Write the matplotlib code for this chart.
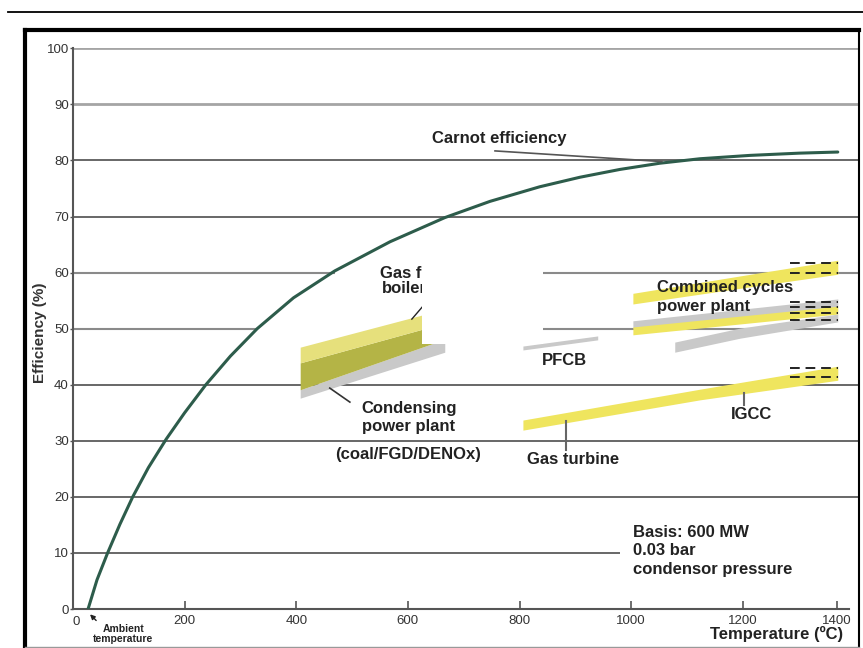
import numpy as np
import matplotlib
matplotlib.use('Agg')
import matplotlib.pyplot as plt
from matplotlib.patches import Rectangle
from matplotlib.lines import Line2D

plt.rcParams['font.family'] = ['Liberation Sans', 'DejaVu Sans']

# Carnot efficiency curve
carnot_T = [27, 43, 62, 84, 107, 135, 167, 200, 238, 282, 330, 395, 469, 568, 666, 747,
            836, 908, 980, 1051, 1123, 1215, 1320, 1402]
carnot_eff = [0, 5.2, 10, 15.1, 20, 25.2, 30.3, 35.0, 40.0, 45.1, 50, 55.5, 60.3, 65.5, 69.8, 72.7,
              75.3, 77.0, 78.4, 79.5, 80.3, 80.9, 81.3, 81.5]

# condensing power plant slab (coal/FGD/DENOx)
cond_T = [407, 666]
cond_top = [46.7, 53.5]
cond_mid = [43.9, 51.0]
cond_base = [39.1, 48.1]
cond_bottom = [37.6, 45.8]

# PFCB
pfcb_T = [806, 940]
pfcb_top = [46.9, 48.7]
pfcb_bottom = [46.2, 48.0]

# gas turbine / IGCC
gt_T = [806, 1123, 1402]
gt_top = [33.7, 39.2, 43.3]
gt_bottom = [31.9, 37.3, 40.8]
igcc_dash = [42.9, 41.4]

# combined cycles
cc1_T = [1003, 1195, 1402]
cc1_top = [56.3, 59.4, 62.2]
cc1_bottom = [54.4, 57.2, 59.7]
cc_gray_T = [1003, 1402]
cc_gray_top = [51.4, 55.3]
cc_gray_bottom = [50.1, 53.9]
cc2_T = [1003, 1402]
cc2_top = [50.3, 54.0]
cc2_bottom = [48.9, 52.6]
cc_gray2_T = [1078, 1195, 1402]
cc_gray2_top = [47.6, 50.1, 52.6]
cc_gray2_bottom = [45.8, 48.3, 51.2]
cc1_dash = [61.7, 60.0]
cc2_dash = [54.8, 53.9, 52.8, 51.5]
dash_T = [1300, 1402]

x_ticks = [200, 400, 600, 800, 1000, 1200, 1400]
y_ticks = [0, 10, 20, 30, 40, 50, 60, 70, 80, 90, 100]

# gridline segments (value, [(start, end), ...])
grid_rows = {
    100: [(0, 1445)], 90: [(0, 1445)], 80: [(0, 1445)], 70: [(0, 1445)],
    60: [(0, 469), (625, 1445)], 50: [(0, 330), (625, 1445)],
    40: [(0, 1445)], 30: [(0, 1445)], 20: [(0, 1445)], 10: [(0, 980)],
}

# the original axis is squeezed between 1200 and 1400
def fwd(x):
    x = np.asarray(x, dtype=float)
    return np.where(x <= 1200, x, 1200 + (x - 1200) * 0.842)

def inv(x):
    x = np.asarray(x, dtype=float)
    return np.where(x <= 1200, x, 1200 + (x - 1200) / 0.842)

YEL = '#efe55e'
LYEL = '#e6e07c'
OLIVE = '#b4b446'
GRAY = '#c9c9c9'

fig = plt.figure(figsize=(8.63, 6.48), dpi=100)
ax = fig.add_axes([73 / 863, 39 / 648, 785 / 863, 560.7 / 648])
ax.set_xscale('function', functions=(fwd, inv))
ax.set_xlim(0, 1445)
ax.set_ylim(0, 100)

for val, segs in grid_rows.items():
    if val in (100, 90):
        col, lw = '#a5a5a5', 2.0
    elif val in (60, 50):
        col, lw = '#8a8a8a', 1.5
    else:
        col, lw = '#3f3f3f', 1.1
    for a, b in segs:
        ax.plot([a, b], [val, val], color=col, lw=lw, zorder=1, solid_capstyle='butt')

# condensing slab
ax.fill_between(cond_T, cond_base, cond_bottom, color=GRAY, lw=0, zorder=2)
ax.fill_between(cond_T, cond_mid, cond_base, color=OLIVE, lw=0, zorder=2)
ax.fill_between(cond_T, cond_top, cond_mid, color=LYEL, lw=0, zorder=2)

ax.fill_between(pfcb_T, pfcb_top, pfcb_bottom, color=GRAY, lw=0, zorder=2)
ax.fill_between(gt_T, gt_top, gt_bottom, color=YEL, lw=0, zorder=2)
ax.fill_between(cc1_T, cc1_top, cc1_bottom, color=YEL, lw=0, zorder=2)
ax.fill_between(cc_gray_T, cc_gray_top, cc_gray_bottom, color=GRAY, lw=0, zorder=2)
ax.fill_between(cc2_T, cc2_top, cc2_bottom, color=YEL, lw=0, zorder=2.1)
ax.fill_between(cc_gray2_T, cc_gray2_top, cc_gray2_bottom, color=GRAY, lw=0, zorder=2.1)

for v in igcc_dash + cc1_dash + cc2_dash:
    ax.plot(dash_T, [v, v], color='#222222', lw=1.4, dashes=(5, 3), zorder=3)

ax.plot(carnot_T, carnot_eff, color='#2d5c4b', lw=2.2, zorder=3,
        solid_capstyle='round', solid_joinstyle='round')

# text that sits partly under the white box
tk = dict(fontsize=12, fontweight='bold', color='#222222')
ax.text(550, 59.9, 'Gas fired', va='center', ha='left', zorder=3.5, **tk)
ax.text(553, 57.1, 'boiler', va='center', ha='left', zorder=3.5, **tk)
ax.plot([607, 632], [51.7, 54.6], color='#222222', lw=1, zorder=3.5)
ax.add_patch(Rectangle((625, 47.3), 217, 14.1, facecolor='white', edgecolor='none', zorder=4))

# labels and pointers
ax.text(763, 84.0, 'Carnot efficiency', ha='center', va='center', zorder=5, **tk)
ax.plot([756, 1055], [81.7, 79.8], color='#555555', lw=1.2, zorder=5)
ax.text(516, 35.8, 'Condensing', ha='left', va='center', zorder=5, **tk)
ax.text(517, 32.5, 'power plant', ha='left', va='center', zorder=5, **tk)
ax.text(600, 27.5, '(coal/FGD/DENOx)', ha='center', va='center', zorder=5, **tk)
ax.plot([460, 496], [39.4, 36.9], color='#333333', lw=1.2, zorder=5)
ax.text(881, 44.4, 'PFCB', ha='center', va='center', zorder=5, **tk)
ax.plot([883, 883], [33.5, 28.4], color='#666666', lw=1.5, zorder=5)
ax.text(896, 26.6, 'Gas turbine', ha='center', va='center', zorder=5, **tk)
ax.plot([1202, 1202], [38.6, 36.4], color='#666666', lw=1.5, zorder=5)
ax.text(1219, 34.6, 'IGCC', ha='center', va='center', zorder=5, **tk)
ax.text(1046, 57.4, 'Combined cycles', ha='left', va='center', zorder=5, **tk)
ax.text(1046, 54.0, 'power plant', ha='left', va='center', zorder=5, **tk)
ax.text(1003, 13.7, 'Basis: 600 MW', ha='left', va='center', zorder=5, **tk)
ax.text(1003, 10.5, '0.03 bar', ha='left', va='center', zorder=5, **tk)
ax.text(1003, 7.1, 'condensor pressure', ha='left', va='center', zorder=5, **tk)

ax.annotate('', xy=(27, -0.6), xytext=(45, -2.4), annotation_clip=False,
            arrowprops=dict(arrowstyle='-|>', color='#222222', lw=1, mutation_scale=7))
ax.text(90, -4.4, 'Ambient\ntemperature', ha='center', va='center', fontsize=7.5,
        fontweight='bold', color='#222222', linespacing=1.0, clip_on=False)

for s in ('top', 'right'):
    ax.spines[s].set_visible(False)
ax.spines['left'].set_color('#555555')
ax.spines['bottom'].set_color('#555555')
ax.spines['left'].set_linewidth(1.5)
ax.spines['bottom'].set_linewidth(1.5)
ax.spines['left'].set_bounds(0, 100)
ax.spines['bottom'].set_bounds(0, 1425)

ax.set_xticks(x_ticks)
ax.set_xticklabels([str(t) for t in x_ticks])
ax.set_yticks(y_ticks)
ax.tick_params(axis='x', direction='in', length=6, width=1.2, color='#555555',
               labelsize=9.5, labelcolor='#333333', pad=4)
ax.tick_params(axis='y', direction='out', length=2, width=1, color='#555555',
               labelsize=9.5, labelcolor='#333333', pad=1)
ax.text(5, -2.3, '0', ha='center', va='center', fontsize=9.5, color='#333333', clip_on=False)

ax.set_ylabel('Efficiency (%)', fontsize=11, fontweight='bold', color='#333333')
ax.yaxis.set_label_coords(-0.033, 0.492)
ax.set_xlabel('Temperature (ºC)', fontsize=12, fontweight='bold', color='#222222')
ax.xaxis.set_label_coords(0.896, -0.031)

# page lines and box round the figure
W, H = 863.0, 648.0
fig.add_artist(Line2D([8 / W, 1], [1 - 12 / H, 1 - 12 / H], color='black', lw=1.3))
fig.add_artist(Line2D([25 / W, 859 / W], [1 - 30 / H, 1 - 30 / H], color='black', lw=3))
fig.add_artist(Line2D([25 / W, 25 / W], [1 - 30 / H, 1 / H], color='black', lw=3))
fig.add_artist(Line2D([859 / W, 859 / W], [1 - 30 / H, 1 / H], color='black', lw=1.5))
fig.add_artist(Line2D([25 / W, 859 / W], [1.5 / H, 1.5 / H], color='#999999', lw=1))

fig.savefig('out.png', dpi=100)
